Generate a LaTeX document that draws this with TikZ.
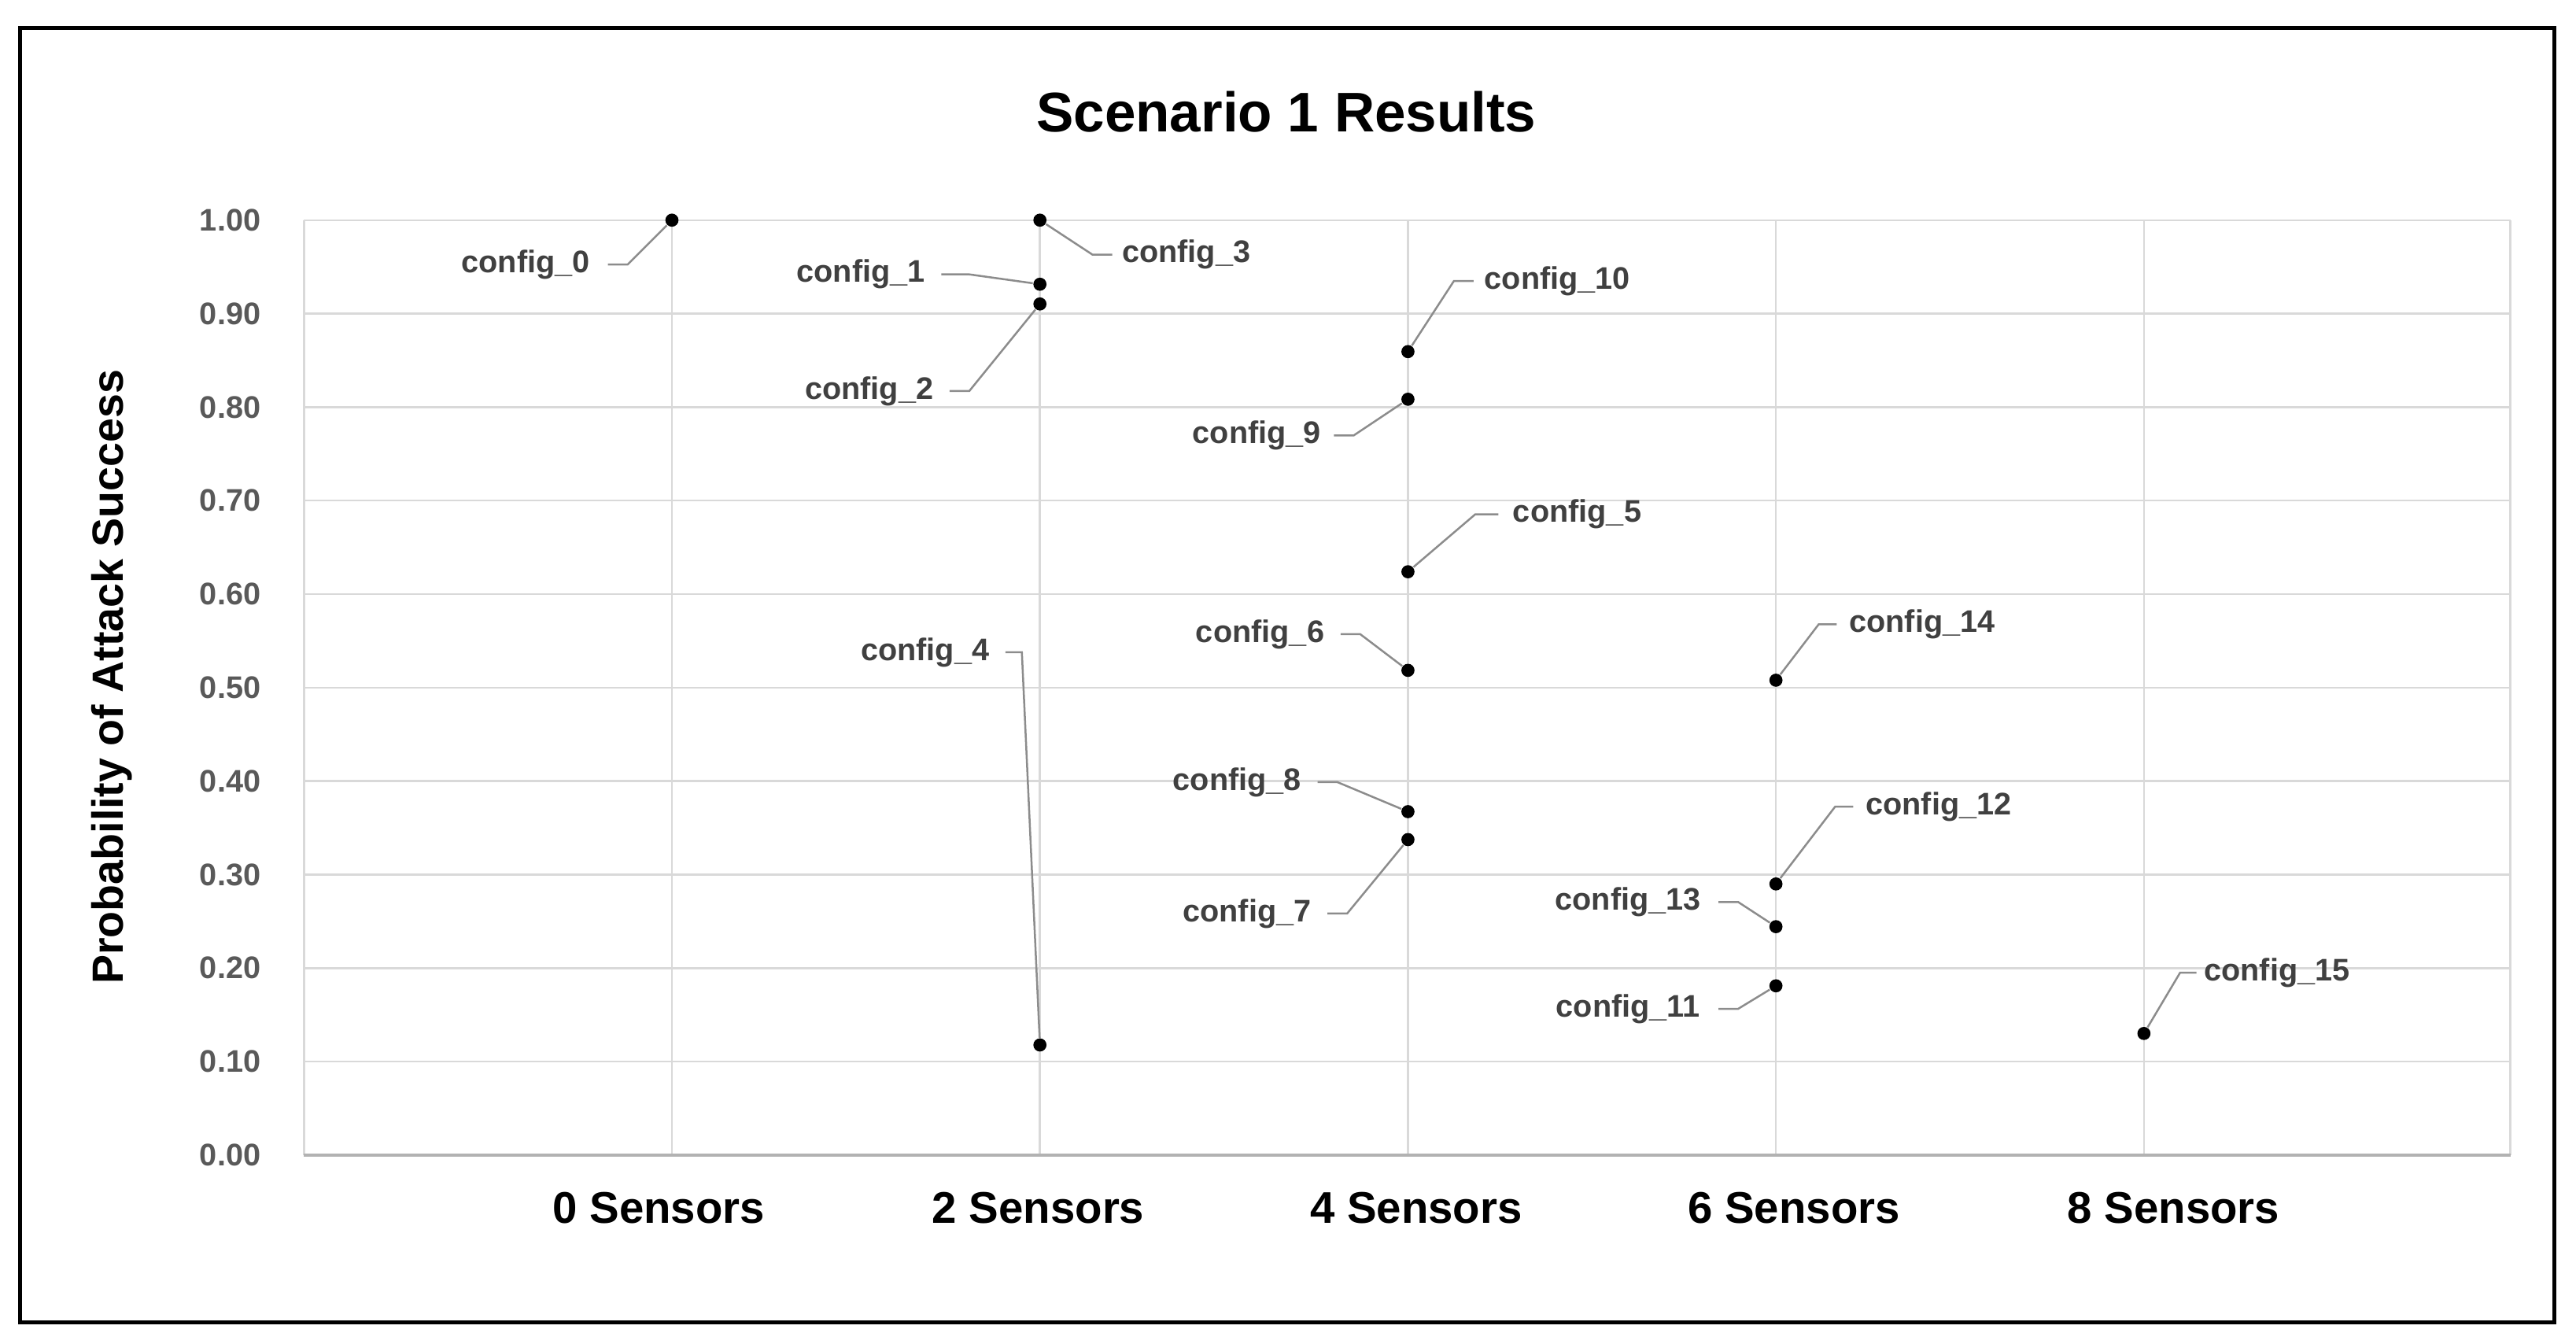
\documentclass[tikz,border=0pt]{standalone}
\usepackage{fontspec}
\setmainfont{Liberation Sans}
\begin{document}
\begin{tikzpicture}[x=0.5pt,y=-0.5pt,
  grid/.style={draw=black!15,line width=0.6pt},
  lbl/.style={font=\bfseries\fontsize{9.5}{11}\selectfont,text=black!75,inner sep=1pt},
  ytick/.style={font=\bfseries\fontsize{9.5}{11}\selectfont,text=black!65,anchor=east,inner sep=1pt},
  xtick/.style={font=\bfseries\fontsize{13.5}{15}\selectfont,inner sep=1pt},
  lead/.style={draw=black!45,line width=0.6pt},
  pt/.style={circle,fill=black,inner sep=0pt,minimum size=4pt}]
\useasboundingbox (0,0) rectangle (1568,818);
\draw[line width=1.2pt] (12,17) rectangle (1555,805);
\node[font=\bfseries\fontsize{17}{20}\selectfont] (title) at (783,68) {Scenario 1 Results};
\node[font=\bfseries\fontsize{13.3}{15}\selectfont,rotate=90] (ytitle) at (68,412) {Probability of Attack Success};
% grid
\foreach \i in {1,...,10} \draw[grid] (185,{703-56.9*\i}) -- (1528,{703-56.9*\i});
\foreach \x in {409,633,857,1081,1305} \draw[grid] (\x,134) -- (\x,703);
\draw[grid] (185,134) -- (185,703);
\draw[grid] (1528,134) -- (1528,703);
\draw[draw=black!30,line width=0.8pt] (185,703) -- (1528,703);
\foreach \i/\t in {0/0.00,1/0.10,2/0.20,3/0.30,4/0.40,5/0.50,6/0.60,7/0.70,8/0.80,9/0.90,10/1.00}
  \node[ytick] at (161,{703-56.9*\i}) {\t};
\foreach \x/\t in {401/0,632/2,862/4,1092/6,1323/8}
  \node[xtick] at (\x,735) {\t\ Sensors};
% points and labels
\foreach \n/\px/\py/\lx/\ly/\ax/\bx in {
  0/409/134/320/161/370/382,
  1/633/173/524/167/573/590,
  2/633/185/529/238/578/590,
  3/633/134/722/155/677/665,
  4/633/636/563/397/612/622,
  10/857/214/948/171/897/885,
  9/857/243/765/265/812/824,
  5/857/348/960/313/912/898,
  6/857/408/767/386/816/828,
  8/857/494/753/476/802/814,
  7/857/511/759/556/808/820,
  14/1081/414/1170/380/1118/1107,
  12/1081/538/1180/491/1128/1117,
  13/1081/564/991/549/1046/1058,
  11/1081/600/991/614/1046/1058,
  15/1305/629/1386/592/1337/1327}{
  \node[pt] (p\n) at (\px,\py) {};
  \node[lbl] (l\n) at (\lx,\ly) {config\_\n};
  \coordinate (k\n) at (\bx,\ly);
  \draw[lead] (\ax,\ly) -- (k\n) -- (p\n);
}
\end{tikzpicture}
\end{document}
